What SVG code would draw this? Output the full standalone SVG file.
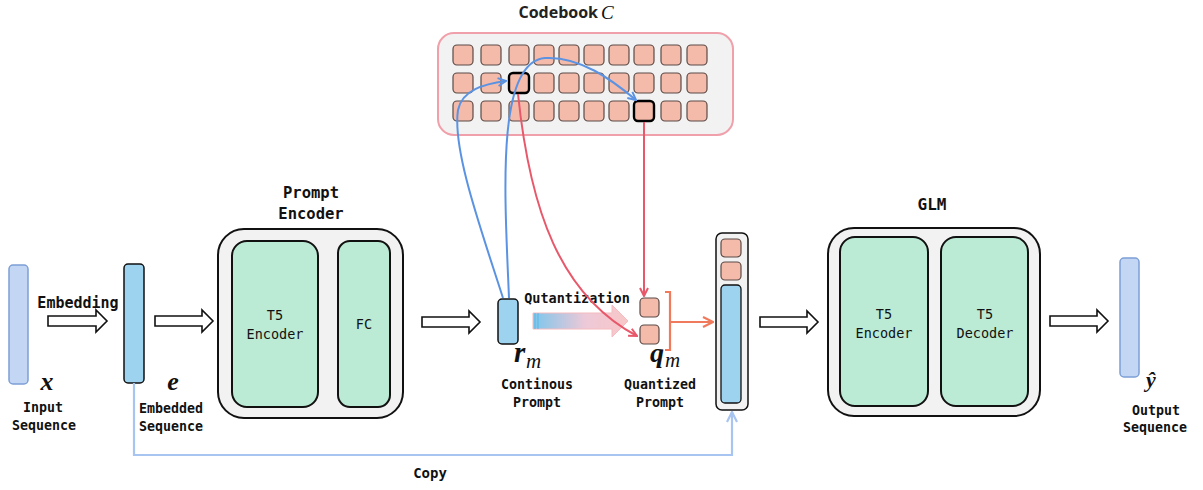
<svg xmlns="http://www.w3.org/2000/svg" width="1203" height="490" viewBox="0 0 1203 490">
  <style>
    .lbl { font-family: "DejaVu Sans Mono", "Liberation Mono", monospace; font-weight: bold; fill: #111; }
    .in { font-family: "DejaVu Sans Mono", "Liberation Mono", monospace; font-size: 13.5px; fill: #111; }
    .math { font-family: "Liberation Serif", "DejaVu Serif", serif; font-style: italic; fill: #111; }
    .outer { fill: #f2f2f2; stroke: #111; stroke-width: 2; }
    .block { fill: #bbead5; stroke: #111; stroke-width: 2; }
    .cell { fill: #f5bbaa; stroke: #5a4a46; stroke-width: 1.2; }
    .sel { fill: #f5bbaa; stroke: #000; stroke-width: 2.4; }
    .hollow { fill: #fff; stroke: #111; stroke-width: 1.6; }
    .blue { fill: none; stroke: #5b93e2; stroke-width: 2; }
    .red { fill: none; stroke: #e8586b; stroke-width: 2; }
  </style>
  <defs>
    <marker id="ahBlue" viewBox="0 0 10 10" refX="9" refY="5" markerWidth="10" markerHeight="10" markerUnits="userSpaceOnUse" orient="auto">
      <path d="M1,1 L9,5 L1,9" fill="none" stroke="#5b93e2" stroke-width="2"/>
    </marker>
    <marker id="ahRed" viewBox="0 0 10 10" refX="9" refY="5" markerWidth="10" markerHeight="10" markerUnits="userSpaceOnUse" orient="auto">
      <path d="M1,1 L9,5 L1,9" fill="none" stroke="#e8586b" stroke-width="2"/>
    </marker>
    <marker id="ahOrange" viewBox="0 0 12 12" refX="11" refY="6" markerWidth="12" markerHeight="12" markerUnits="userSpaceOnUse" orient="auto">
      <path d="M1,1 L11,6 L1,11" fill="none" stroke="#f07a5c" stroke-width="2.2"/>
    </marker>
    <marker id="ahCopy" viewBox="0 0 12 12" refX="11" refY="6" markerWidth="12" markerHeight="12" markerUnits="userSpaceOnUse" orient="auto">
      <path d="M1,1 L11,6 L1,11" fill="none" stroke="#a8c4f0" stroke-width="2.2"/>
    </marker>
    <linearGradient id="quantGrad" x1="0" y1="0" x2="1" y2="0">
      <stop offset="0" stop-color="#6fc0ea"/>
      <stop offset="0.55" stop-color="#ecc4d4"/>
      <stop offset="1" stop-color="#f8c2c2"/>
    </linearGradient>
  </defs>

  <!-- codebook -->
  <g id="codebook">
    <text x="598" y="18" font-family="'Open Sans', 'Liberation Sans', sans-serif" font-weight="bold" font-size="16" fill="#222" text-anchor="end">Codebook</text>
    <text x="601" y="19" class="math" font-size="19">C</text>
    <rect x="438" y="33" width="295" height="102" rx="16" fill="#f2f2f2" stroke="#f0a0aa" stroke-width="2"/>
    <g id="cells">
      <rect class="cell" x="453" y="45" width="20" height="20" rx="4"/>
      <rect class="cell" x="481" y="45" width="20" height="20" rx="4"/>
      <rect class="cell" x="509" y="45" width="20" height="20" rx="4"/>
      <rect class="cell" x="534" y="45" width="20" height="20" rx="4"/>
      <rect class="cell" x="559" y="45" width="20" height="20" rx="4"/>
      <rect class="cell" x="584" y="45" width="20" height="20" rx="4"/>
      <rect class="cell" x="609" y="45" width="20" height="20" rx="4"/>
      <rect class="cell" x="634" y="45" width="20" height="20" rx="4"/>
      <rect class="cell" x="661" y="45" width="20" height="20" rx="4"/>
      <rect class="cell" x="687" y="45" width="20" height="20" rx="4"/>

      <rect class="cell" x="453" y="73" width="20" height="20" rx="4"/>
      <rect class="cell" x="481" y="73" width="20" height="20" rx="4"/>
      <rect class="sel" x="509" y="73" width="20" height="20" rx="4"/>
      <rect class="cell" x="534" y="73" width="20" height="20" rx="4"/>
      <rect class="cell" x="559" y="73" width="20" height="20" rx="4"/>
      <rect class="cell" x="584" y="73" width="20" height="20" rx="4"/>
      <rect class="cell" x="609" y="73" width="20" height="20" rx="4"/>
      <rect class="cell" x="634" y="73" width="20" height="20" rx="4"/>
      <rect class="cell" x="661" y="73" width="20" height="20" rx="4"/>
      <rect class="cell" x="687" y="73" width="20" height="20" rx="4"/>

      <rect class="cell" x="453" y="101" width="20" height="20" rx="4"/>
      <rect class="cell" x="481" y="101" width="20" height="20" rx="4"/>
      <rect class="cell" x="509" y="101" width="20" height="20" rx="4"/>
      <rect class="cell" x="534" y="101" width="20" height="20" rx="4"/>
      <rect class="cell" x="559" y="101" width="20" height="20" rx="4"/>
      <rect class="cell" x="584" y="101" width="20" height="20" rx="4"/>
      <rect class="cell" x="609" y="101" width="20" height="20" rx="4"/>
      <rect class="sel" x="634" y="101" width="20" height="20" rx="4"/>
      <rect class="cell" x="661" y="101" width="20" height="20" rx="4"/>
      <rect class="cell" x="687" y="101" width="20" height="20" rx="4"/>
    </g>
  </g>

  <!-- input sequence -->
  <g id="input">
    <rect x="9" y="265" width="19" height="119" rx="4" fill="#c3d7f5" stroke="#7d9fd6" stroke-width="1.5"/>
    <text x="47" y="390" class="math" font-weight="bold" font-size="26" text-anchor="middle">x</text>
    <text x="43" y="412" class="lbl" font-size="13.3" text-anchor="middle">Input</text>
    <text x="44" y="430" class="lbl" font-size="13.3" text-anchor="middle">Sequence</text>
  </g>

  <!-- embedded sequence -->
  <g id="embedded">
    <rect x="124" y="264" width="20" height="119" rx="4" fill="#9dd3ef" stroke="#111" stroke-width="1.5"/>
    <text x="173" y="390" class="math" font-weight="bold" font-size="26" text-anchor="middle">e</text>
    <text x="171" y="413" class="lbl" font-size="13.3" text-anchor="middle">Embedded</text>
    <text x="171" y="431" class="lbl" font-size="13.3" text-anchor="middle">Sequence</text>
  </g>

  <!-- prompt encoder -->
  <g id="prompt-encoder">
    <text x="311" y="198" class="lbl" font-size="15.5" text-anchor="middle">Prompt</text>
    <text x="311" y="219" class="lbl" font-size="15.5" text-anchor="middle">Encoder</text>
    <rect class="outer" x="218" y="229" width="185" height="189" rx="26"/>
    <rect class="block" x="232" y="241" width="86" height="166" rx="15"/>
    <rect class="block" x="338" y="241" width="52" height="166" rx="12"/>
    <text x="275" y="320" class="in" text-anchor="middle">T5</text>
    <text x="275" y="339" class="in" text-anchor="middle">Encoder</text>
    <text x="364" y="329" class="in" text-anchor="middle">FC</text>
  </g>

  <!-- continuous prompt -->
  <g id="continuous-prompt">
    <rect x="498" y="299" width="20" height="45" rx="4" fill="#9dd3ef" stroke="#111" stroke-width="1.5"/>
    <text x="514" y="362" class="math" font-weight="bold" font-size="29">r</text>
    <text x="526" y="368" class="math" font-size="21">m</text>
    <text x="537" y="389" class="lbl" font-size="13.3" text-anchor="middle">Continous</text>
    <text x="537" y="407" class="lbl" font-size="13.3" text-anchor="middle">Prompt</text>
  </g>

  <!-- quantized prompt -->
  <g id="quantized-prompt">
    <rect x="640" y="298" width="19" height="19" rx="4" class="cell" stroke="#222"/>
    <rect x="640" y="325" width="19" height="19" rx="4" class="cell" stroke="#222"/>
    <text x="650" y="362" class="math" font-weight="bold" font-size="28">q</text>
    <text x="665" y="367" class="math" font-size="21">m</text>
    <text x="660" y="389" class="lbl" font-size="13.3" text-anchor="middle">Quantized</text>
    <text x="660" y="407" class="lbl" font-size="13.3" text-anchor="middle">Prompt</text>
  </g>

  <!-- concatenated sequence -->
  <g id="concat">
    <rect x="716" y="233" width="32" height="177" rx="6" fill="#f2f2f2" stroke="#111" stroke-width="1.5"/>
    <rect x="721" y="239" width="20" height="18" rx="4" class="cell" stroke="#222"/>
    <rect x="721" y="262" width="20" height="18" rx="4" class="cell" stroke="#222"/>
    <rect x="721" y="285" width="20" height="118" rx="4" fill="#9dd3ef" stroke="#111" stroke-width="1.3"/>
  </g>

  <!-- GLM -->
  <g id="glm">
    <text x="932" y="210" class="lbl" font-size="16" text-anchor="middle">GLM</text>
    <rect class="outer" x="828" y="228" width="212" height="188" rx="26"/>
    <rect class="block" x="840" y="237" width="88" height="169" rx="15"/>
    <rect class="block" x="941" y="237" width="87" height="169" rx="15"/>
    <text x="884" y="319" class="in" text-anchor="middle">T5</text>
    <text x="884" y="338" class="in" text-anchor="middle">Encoder</text>
    <text x="985" y="319" class="in" text-anchor="middle">T5</text>
    <text x="985" y="338" class="in" text-anchor="middle">Decoder</text>
  </g>

  <!-- output sequence -->
  <g id="output">
    <rect x="1120" y="258" width="19" height="119" rx="4" fill="#c3d7f5" stroke="#7d9fd6" stroke-width="1.5"/>
    <text x="1151" y="387" class="math" font-weight="bold" font-size="22" text-anchor="middle">ŷ</text>
    <text x="1156" y="415" class="lbl" font-size="13.3" text-anchor="middle">Output</text>
    <text x="1155" y="432" class="lbl" font-size="13.3" text-anchor="middle">Sequence</text>
  </g>

  <!-- connectors -->
  <g id="connectors">
    <!-- hollow block arrows -->
    <path class="hollow" d="M48,316 H96 V310 L107,321 L96,332 V326 H48 Z"/>
    <text x="78" y="308" class="lbl" font-size="15" text-anchor="middle">Embedding</text>
    <path class="hollow" d="M155,316 H202 V310 L213,321 L202,332 V326 H155 Z"/>
    <path class="hollow" d="M422,317 H469 V311 L480,322 L469,333 V327 H422 Z"/>
    <path class="hollow" d="M760,317 H807 V311 L818,322 L807,333 V327 H760 Z"/>
    <path class="hollow" d="M1050,316 H1097 V310 L1108,321 L1097,332 V326 H1050 Z"/>

    <!-- quantization arrow -->
    <path d="M533,313 H612 V305 L628,321 L612,337 V329 H533 Z" fill="url(#quantGrad)" stroke="#f4b4b8" stroke-width="1" opacity="0.9"/>
    <line x1="535" y1="313" x2="535" y2="329" stroke="#5bb6e6" stroke-width="1"/>
    <line x1="538" y1="313" x2="538" y2="329" stroke="#5bb6e6" stroke-width="1"/>
    <text x="577" y="303" class="lbl" font-size="13.5" text-anchor="middle">Qutantization</text>

    <!-- codebook lookups -->
    <path class="blue" d="M503,298 C482,232 452,150 458,110 C462,90 484,84 506,81" marker-end="url(#ahBlue)"/>
    <path class="blue" d="M509,298 C505,200 495,62 545,58 C580,56 612,80 636,100" marker-end="url(#ahBlue)"/>
    <path class="red" d="M518,94 C530,210 560,295 637,336" marker-end="url(#ahRed)"/>
    <path class="red" d="M644,122 V296" marker-end="url(#ahRed)"/>

    <!-- quantized bracket into sequence -->
    <path d="M665,292 H670 V350 H665" fill="none" stroke="#f07a5c" stroke-width="2.2"/>
    <path d="M670,322 H713" fill="none" stroke="#f07a5c" stroke-width="2.2" marker-end="url(#ahOrange)"/>

    <!-- copy -->
    <path d="M134,383 V455 H732 V412" fill="none" stroke="#a8c4f0" stroke-width="2.2" marker-end="url(#ahCopy)"/>
    <text x="430" y="478" class="lbl" font-size="14" text-anchor="middle">Copy</text>
  </g>
</svg>
